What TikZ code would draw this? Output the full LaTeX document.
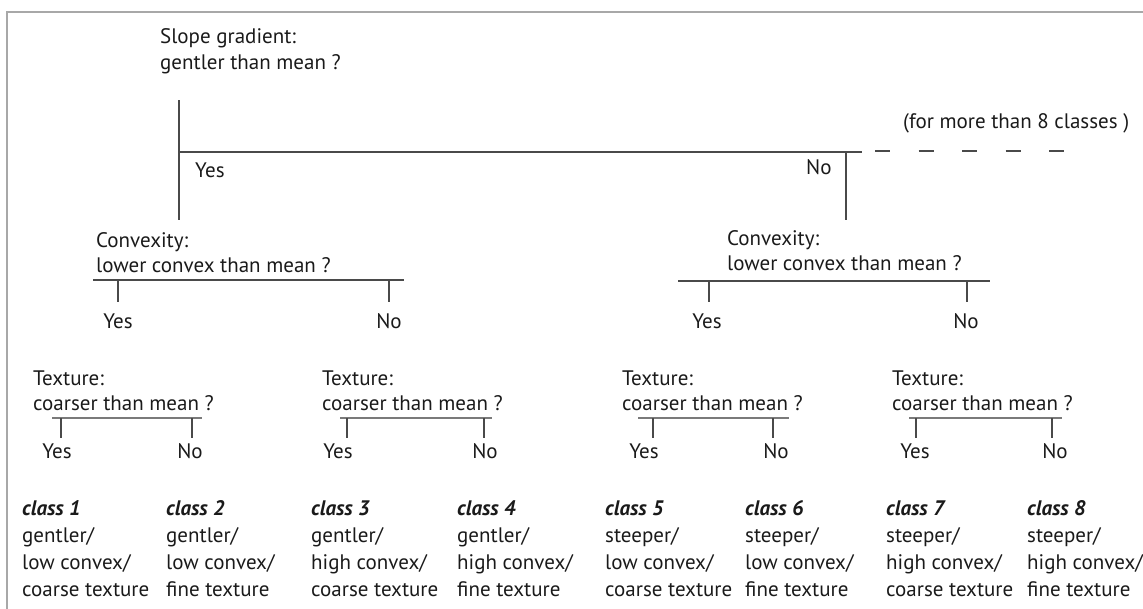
\documentclass[tikz,border=0pt]{standalone}
\usepackage{fontspec}
\setmainfont{PT Sans}
\definecolor{txt}{HTML}{1A1A1A}
\definecolor{lncol}{HTML}{4A4A4A}
\definecolor{tlncol}{HTML}{7A7A7A}
\definecolor{frame}{HTML}{A8A8A8}
\begin{document}
\begin{tikzpicture}[x=1pt,y=-1pt,
  lbl/.style={anchor=base west,inner sep=0pt,text=txt,font=\fontsize{21}{24}\selectfont},
  cls/.style={lbl,font=\fontsize{21}{24}\selectfont\bfseries\itshape},
  yn/.style={anchor=base,inner sep=0pt,text=txt,font=\fontsize{21}{24}\selectfont},
  ln/.style={draw=lncol,line width=1.1pt},
  tln/.style={draw=tlncol,line width=1.1pt}]
\useasboundingbox (0,0) rectangle (1143,608);
\draw[frame,line width=1.2pt] (7,12) rectangle (1160,630);

% ---- level 1: slope gradient
\node[lbl] (s1) at (160,43) {Slope gradient:};
\node[lbl] (s2) at (160,69) {gentler than mean ?};
\coordinate (sTop) at (179,100);
\coordinate (sBot) at (179,220);
\coordinate (hL) at (179,152);
\coordinate (hR) at (862,152);
\coordinate (nTop) at (846,152);
\coordinate (nBot) at (846,220);
\coordinate (dA) at (875,151);
\coordinate (dB) at (1068,151);
\draw[ln] (sTop) -- (sBot);
\draw[ln] (hL) -- (hR);
\draw[ln] (nTop) -- (nBot);
\draw[ln,dash pattern=on 15pt off 28.5pt] (dA) -- (dB);
\node[lbl] (y0) at (195,177) {Yes};
\node[lbl] (n0) at (806,174) {No};
\node[lbl] (more) at (903,128) {(for more than 8 classes )};

% ---- level 2: convexity (left)
\node[lbl] (cl1) at (96,247) {Convexity:};
\node[lbl] (cl2) at (96,272) {lower convex than mean ?};
\coordinate (clA) at (93,280);
\coordinate (clB) at (404,280);
\coordinate (clY) at (118,280);
\coordinate (clYb) at (118,302);
\coordinate (clN) at (389,280);
\coordinate (clNb) at (389,302);
\draw[ln] (clA) -- (clB);
\draw[ln] (clY) -- (clYb);
\draw[ln] (clN) -- (clNb);
\node[yn] (clYes) at (118,328) {Yes};
\node[yn] (clNo) at (389,328) {No};

% ---- level 2: convexity (right)
\node[lbl] (cr1) at (727,245) {Convexity:};
\node[lbl] (cr2) at (727,270) {lower convex than mean ?};
\coordinate (crA) at (678,281);
\coordinate (crB) at (990,281);
\coordinate (crY) at (709,281);
\coordinate (crYb) at (709,302);
\coordinate (crN) at (967,281);
\coordinate (crNb) at (967,302);
\draw[ln] (crA) -- (crB);
\draw[ln] (crY) -- (crYb);
\draw[ln] (crN) -- (crNb);
\node[yn] (crYes) at (707,328) {Yes};
\node[yn] (crNo) at (966,328) {No};

% ---- level 3: texture groups
\node[lbl] (t1a) at (33,385) {Texture:};
\node[lbl] (t1b) at (33,410) {coarser than mean ?};
\coordinate (t1A) at (52,418); \coordinate (t1B) at (202,418);
\coordinate (t1Y) at (61,418); \coordinate (t1Yb) at (61,438);
\coordinate (t1N) at (192,418); \coordinate (t1Nb) at (192,438);
\draw[tln] (t1A) -- (t1B);
\draw[ln] (t1Y) -- (t1Yb);
\draw[ln] (t1N) -- (t1Nb);
\node[yn] (t1Yes) at (57,458) {Yes};
\node[yn] (t1No) at (190,458) {No};

\node[lbl] (t2a) at (322,385) {Texture:};
\node[lbl] (t2b) at (322,410) {coarser than mean ?};
\coordinate (t2A) at (340,418); \coordinate (t2B) at (492,418);
\coordinate (t2Y) at (347,418); \coordinate (t2Yb) at (347,438);
\coordinate (t2N) at (484,418); \coordinate (t2Nb) at (484,438);
\draw[tln] (t2A) -- (t2B);
\draw[ln] (t2Y) -- (t2Yb);
\draw[ln] (t2N) -- (t2Nb);
\node[yn] (t2Yes) at (338,458) {Yes};
\node[yn] (t2No) at (485,458) {No};

\node[lbl] (t3a) at (622,385) {Texture:};
\node[lbl] (t3b) at (622,410) {coarser than mean ?};
\coordinate (t3A) at (638,418); \coordinate (t3B) at (789,418);
\coordinate (t3Y) at (653,418); \coordinate (t3Yb) at (653,438);
\coordinate (t3N) at (773,418); \coordinate (t3Nb) at (773,438);
\draw[tln] (t3A) -- (t3B);
\draw[ln] (t3Y) -- (t3Yb);
\draw[ln] (t3N) -- (t3Nb);
\node[yn] (t3Yes) at (644,458) {Yes};
\node[yn] (t3No) at (776,458) {No};

\node[lbl] (t4a) at (892,385) {Texture:};
\node[lbl] (t4b) at (892,410) {coarser than mean ?};
\coordinate (t4A) at (909,418); \coordinate (t4B) at (1062,418);
\coordinate (t4Y) at (916,418); \coordinate (t4Yb) at (916,438);
\coordinate (t4N) at (1052,418); \coordinate (t4Nb) at (1052,438);
\draw[tln] (t4A) -- (t4B);
\draw[ln] (t4Y) -- (t4Yb);
\draw[ln] (t4N) -- (t4Nb);
\node[yn] (t4Yes) at (915,458) {Yes};
\node[yn] (t4No) at (1055,458) {No};

% ---- classes
\node[cls] (k1) at (22,515) {class 1};
\node[lbl] (k1a) at (22,542) {gentler/};
\node[lbl] (k1b) at (22,569) {low convex/};
\node[lbl] (k1c) at (22,596) {coarse texture};

\node[cls] (k2) at (166,515) {class 2};
\node[lbl] (k2a) at (166,542) {gentler/};
\node[lbl] (k2b) at (166,569) {low convex/};
\node[lbl] (k2c) at (166,596) {fine texture};

\node[cls] (k3) at (311,515) {class 3};
\node[lbl] (k3a) at (311,542) {gentler/};
\node[lbl] (k3b) at (311,569) {high convex/};
\node[lbl] (k3c) at (311,596) {coarse texture};

\node[cls] (k4) at (457,515) {class 4};
\node[lbl] (k4a) at (457,542) {gentler/};
\node[lbl] (k4b) at (457,569) {high convex/};
\node[lbl] (k4c) at (457,596) {fine texture};

\node[cls] (k5) at (605,515) {class 5};
\node[lbl] (k5a) at (605,542) {steeper/};
\node[lbl] (k5b) at (605,569) {low convex/};
\node[lbl] (k5c) at (605,596) {coarse texture};

\node[cls] (k6) at (745,515) {class 6};
\node[lbl] (k6a) at (745,542) {steeper/};
\node[lbl] (k6b) at (745,569) {low convex/};
\node[lbl] (k6c) at (745,596) {fine texture};

\node[cls] (k7) at (886,515) {class 7};
\node[lbl] (k7a) at (886,542) {steeper/};
\node[lbl] (k7b) at (886,569) {high convex/};
\node[lbl] (k7c) at (886,596) {coarse texture};

\node[cls] (k8) at (1027,515) {class 8};
\node[lbl] (k8a) at (1027,542) {steeper/};
\node[lbl] (k8b) at (1027,569) {high convex/};
\node[lbl] (k8c) at (1027,596) {fine texture};
\end{tikzpicture}
\end{document}
